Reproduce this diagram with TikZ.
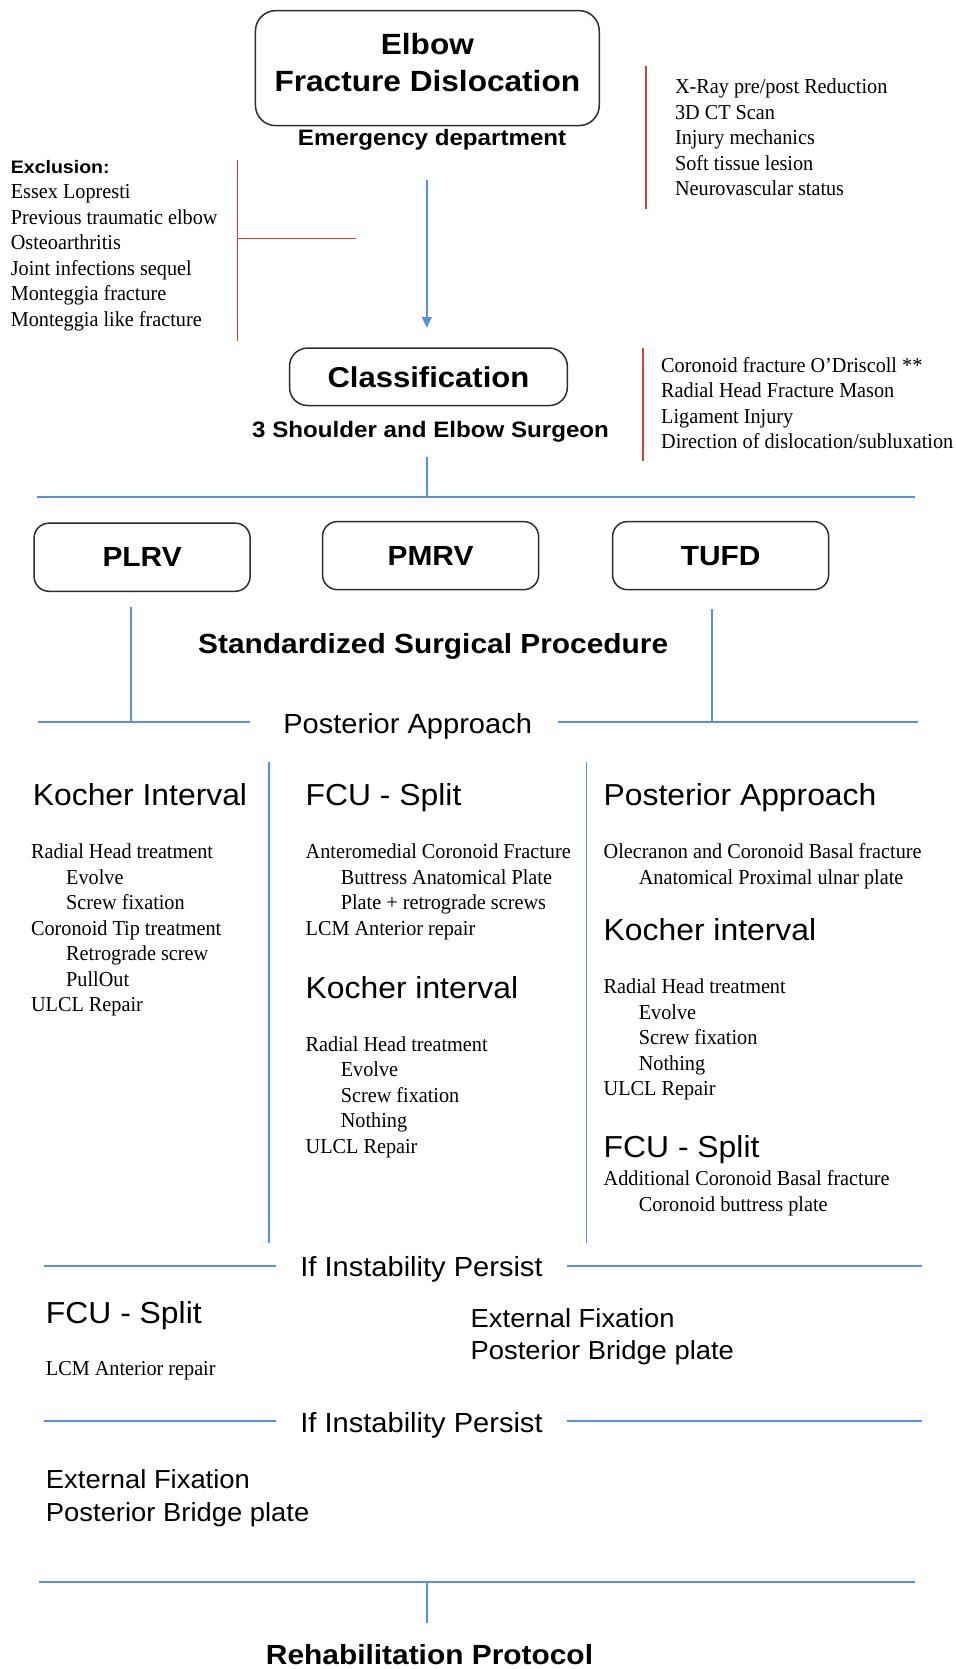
\documentclass[tikz,border=0pt]{standalone}
\usepackage{fontspec}
\setmainfont{Liberation Serif}[FakeStretch=0.95]
\newfontfamily\hsans[FakeStretch=1.05]{Liberation Sans}
\newfontfamily\hsansb[FakeStretch=1.08]{Liberation Sans}
\usetikzlibrary{arrows.meta}
\definecolor{lblue}{RGB}{88,141,236}
\definecolor{lred}{RGB}{212,62,52}
\definecolor{bgray}{RGB}{45,45,45}
\newcommand\lst[1]{\begin{tabular}[t]{@{}l@{}}#1\end{tabular}}
\newcommand\ind{\hspace*{33pt}}
\newcommand\fsz[2]{\fontsize{#1}{#2}\selectfont}
\tikzset{
  box/.style={draw=bgray, line width=1.4pt, inner sep=0pt, align=center},
  bl/.style={draw=lblue, line width=2pt},
  rl/.style={draw=lred, line width=1.5pt},
  ser/.style={anchor=base west, inner sep=0pt, font=\fsz{20}{23.9}},
  hd/.style={anchor=base west, inner sep=0pt, font=\hsans\fsz{28.5}{30}},
  btitle/.style={anchor=base, inner sep=0pt, font=\hsansb\bfseries\fsz{#1}{#1}},
  rtitle/.style={anchor=base, inner sep=0pt, font=\hsans\fsz{#1}{#1}},
}
\begin{document}
\begin{tikzpicture}[x=1pt,y=-1pt]
\useasboundingbox[fill=white] (0,0) rectangle (898,1568);

% top box
\node[box, minimum width=323pt, minimum height=108pt, rounded corners=19pt,
      font=\hsansb\bfseries\fsz{27.5}{35}, text depth=11pt] (top) at (401.5,64) {Elbow\\Fracture Dislocation};
\node[btitle=21] (ed) at (406,136.8) {Emergency department};

% right list 1
\coordinate (r1a) at (607,62);
\coordinate (r1b) at (607,196);
\draw[rl] (r1a) -- (r1b);
\node[ser] (inv) at (634,88.3) {\lst{X-Ray pre/post Reduction\\3D CT Scan\\Injury mechanics\\Soft tissue lesion\\Neurovascular status}};

% exclusion
\node[anchor=base west, inner sep=0pt, font=\hsansb\bfseries\fsz{17}{17}] (exh) at (10,163.4) {Exclusion:};
\node[ser] (exl) at (10,186.9) {\lst{Essex Lopresti\\Previous traumatic elbow\\Osteoarthritis\\Joint infections sequel\\Monteggia fracture\\Monteggia like fracture}};
\coordinate (exa) at (223,150);
\coordinate (exb) at (223,320);
\coordinate (exm) at (223,224);
\coordinate (exr) at (334,224);
\draw[rl] (exa) -- (exb);
\draw[rl] (exm) -- (exr);

% arrow
\coordinate (ar1) at (401,169);
\coordinate (ar2) at (401,308);
\draw[bl, line width=1.6pt, -{Triangle[length=10pt,width=9pt]}] (ar1) -- (ar2);

% classification
\node[box, minimum width=261pt, minimum height=54pt, rounded corners=17pt,
      font=\hsansb\bfseries\fsz{27}{27}] (cls) at (402.5,354) {Classification};
\node[btitle=21] (ses) at (404.5,410.8) {3 Shoulder and Elbow Surgeon};
\coordinate (r2a) at (604,327);
\coordinate (r2b) at (604,433);
\draw[rl] (r2a) -- (r2b);
\node[ser] (clsl) at (621,350) {\lst{Coronoid fracture O’Driscoll **\\Radial Head Fracture Mason\\Ligament Injury\\Direction of dislocation/subluxation}};

% split line
\coordinate (s1) at (401,429);
\coordinate (s2) at (401,467);
\coordinate (h1a) at (35,467);
\coordinate (h1b) at (860,467);
\draw[bl] (s1) -- (s2);
\draw[bl] (h1a) -- (h1b);

% three boxes
\node[box, minimum width=203pt, minimum height=64pt, rounded corners=14pt,
      font=\hsansb\bfseries\fsz{26}{26}] (plrv) at (133.5,523.5) {PLRV};
\node[box, minimum width=203pt, minimum height=64pt, rounded corners=14pt,
      font=\hsansb\bfseries\fsz{26}{26}] (pmrv) at (404.5,522) {PMRV};
\node[box, minimum width=203pt, minimum height=64pt, rounded corners=14pt,
      font=\hsansb\bfseries\fsz{26}{26}] (tufd) at (677,522) {TUFD};

\node[btitle=26] (ssp) at (407,613.7) {Standardized Surgical Procedure};

\coordinate (v1a) at (123,570);
\coordinate (v1b) at (123,678);
\coordinate (v2a) at (669,572);
\coordinate (v2b) at (669,678);
\draw[bl] (v1a) -- (v1b);
\draw[bl] (v2a) -- (v2b);
\coordinate (pa1) at (36,678);
\coordinate (pa2) at (235,678);
\coordinate (pa3) at (524,678);
\coordinate (pa4) at (862,678);
\draw[bl] (pa1) -- (pa2);
\draw[bl] (pa3) -- (pa4);
\node[rtitle=26] (pa) at (383,688.8) {Posterior Approach};

% column dividers
\coordinate (c1a) at (253,716);
\coordinate (c1b) at (253,1168);
\coordinate (c2a) at (551,716);
\coordinate (c2b) at (551,1168);
\draw[bl, line width=1.6pt] (c1a) -- (c1b);
\draw[bl, line width=1.6pt] (c2a) -- (c2b);

% column 1
\node[hd] (k1) at (30.7,757) {Kocher Interval};
\node[ser] (k1l) at (29,806.9) {\lst{Radial Head treatment\\\ind Evolve\\\ind Screw fixation\\Coronoid Tip treatment\\\ind Retrograde screw\\\ind PullOut\\ULCL Repair}};

% column 2
\node[hd] (f2) at (287,757) {FCU - Split};
\node[ser] (f2l) at (287,806.9) {\lst{Anteromedial Coronoid Fracture\\\ind Buttress Anatomical Plate\\\ind Plate + retrograde screws\\LCM Anterior repair}};
\node[hd] (k2) at (287,937.7) {Kocher interval};
\node[ser] (k2l) at (287,987.9) {\lst{Radial Head treatment\\\ind Evolve\\\ind Screw fixation\\\ind Nothing\\ULCL Repair}};

% column 3
\node[hd] (p3) at (567,757) {Posterior Approach};
\node[ser] (p3l) at (567,806.9) {\lst{Olecranon and Coronoid Basal fracture\\\ind Anatomical Proximal ulnar plate}};
\node[hd] (k3) at (567,883.6) {Kocher interval};
\node[ser] (k3l) at (567,933.7) {\lst{Radial Head treatment\\\ind Evolve\\\ind Screw fixation\\\ind Nothing\\ULCL Repair}};
\node[hd] (f3) at (567,1087.1) {FCU - Split};
\node[ser] (f3l) at (567,1114) {\lst{Additional Coronoid Basal fracture\\\ind Coronoid buttress plate}};

% instability 1
\coordinate (i1a) at (41,1189);
\coordinate (i1b) at (259,1189);
\coordinate (i1c) at (533,1189);
\coordinate (i1d) at (866,1189);
\draw[bl] (i1a) -- (i1b);
\draw[bl] (i1c) -- (i1d);
\node[rtitle=26] (ip1) at (396,1199.2) {If Instability Persist};
\node[hd] (f4) at (43,1243) {FCU - Split};
\node[ser] (f4l) at (43,1292.5) {LCM Anterior repair};
\node[anchor=base west, inner sep=0pt, font=\hsans\fsz{24.5}{30.7}] (ef1) at (442,1246.8) {\lst{External Fixation\\Posterior Bridge plate}};

% instability 2
\coordinate (i2a) at (41,1335.4);
\coordinate (i2b) at (259,1335.4);
\coordinate (i2c) at (533,1335.4);
\coordinate (i2d) at (866,1335.4);
\draw[bl] (i2a) -- (i2b);
\draw[bl] (i2c) -- (i2d);
\node[rtitle=26] (ip2) at (396,1345.4) {If Instability Persist};
\node[anchor=base west, inner sep=0pt, font=\hsans\fsz{24.5}{31.3}] (ef2) at (43,1398) {\lst{External Fixation\\Posterior Bridge plate}};

% bottom
\coordinate (b1) at (37,1486);
\coordinate (b2) at (860,1486);
\coordinate (b3) at (401,1486);
\coordinate (b4) at (401,1525);
\draw[bl] (b1) -- (b2);
\draw[bl] (b3) -- (b4);
\node[btitle=26] (reh) at (403.5,1564) {Rehabilitation Protocol};
\end{tikzpicture}
\end{document}
